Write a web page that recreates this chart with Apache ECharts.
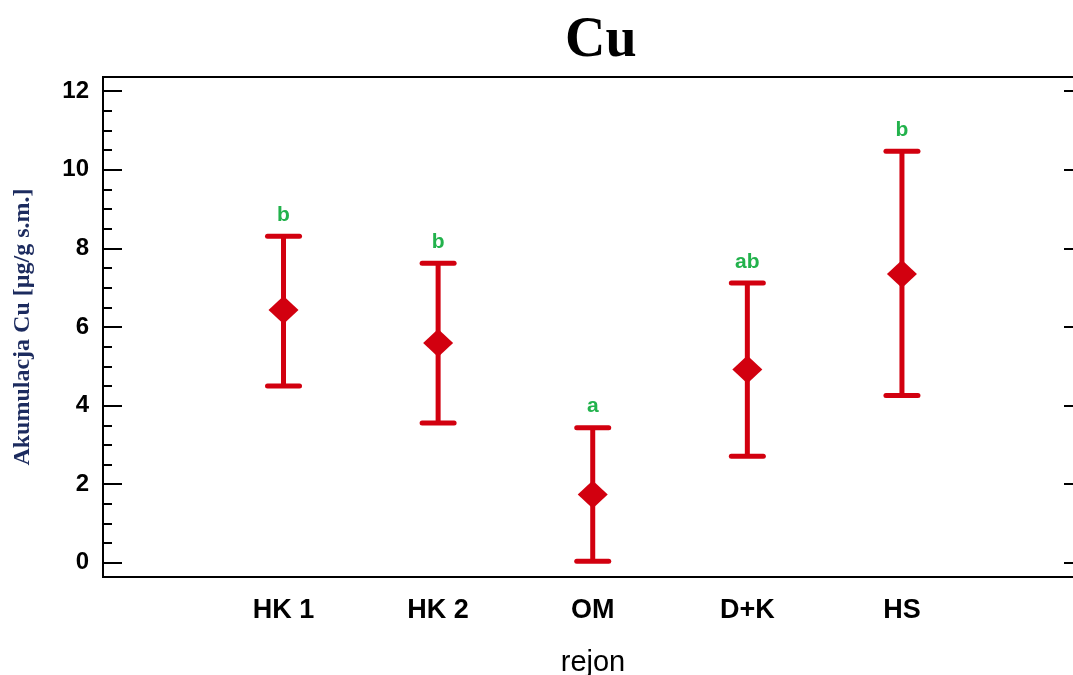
<!DOCTYPE html>
<html>
<head>
    <meta charset="utf-8">
    <script src="https://cdn.jsdelivr.net/npm/echarts@6/dist/echarts.min.js"></script>
    <style>
        html, body { margin: 0; padding: 0; background: #fff; }
    </style>
</head>
<body>
    <div id="main" style="width: 1073px;height:675px;"></div>
    <script type="text/javascript">
        // dane
        var categories = ['HK 1', 'HK 2', 'OM', 'D+K', 'HS'];
        var positions = [1, 2, 3, 4, 5];
        var means = [6.43, 5.59, 1.74, 4.92, 7.35];
        var lower = [4.50, 3.56, 0.04, 2.71, 4.26];
        var upper = [8.31, 7.62, 3.44, 7.12, 10.47];
        var letters = ['b', 'b', 'a', 'ab', 'b'];
        var yMajorTicks = [0, 2, 4, 6, 8, 10, 12];
        var yMinorTicks = [0, 0.5, 1, 1.5, 2, 2.5, 3, 3.5, 4, 4.5, 5, 5.5, 6, 6.5,
                           7, 7.5, 8, 8.5, 9, 9.5, 10, 10.5, 11, 11.5, 12];

        var red = '#d2000f';
        var green = '#22b24c';
        var sans = 'Liberation Sans, Arial, sans-serif';
        var serif = 'Liberation Serif, Times New Roman, serif';

        var barData = positions.map(function (p, i) {
            return [p, lower[i], upper[i], i];
        });
        var meanData = positions.map(function (p, i) {
            return [p, means[i]];
        });

        function renderBar(params, api) {
            var x = api.value(0);
            var lo = api.coord([x, api.value(1)]);
            var hi = api.coord([x, api.value(2)]);
            var half = 16;
            var st = { stroke: red, lineWidth: 5, lineCap: 'round' };
            return {
                type: 'group',
                children: [
                    { type: 'line', shape: { x1: lo[0], y1: lo[1], x2: hi[0], y2: hi[1] },
                      style: { stroke: red, lineWidth: 5 } },
                    { type: 'line', shape: { x1: hi[0] - half, y1: hi[1], x2: hi[0] + half, y2: hi[1] }, style: st },
                    { type: 'line', shape: { x1: lo[0] - half, y1: lo[1], x2: lo[0] + half, y2: lo[1] }, style: st },
                    { type: 'text', x: hi[0], y: hi[1] - 21,
                      style: { text: letters[api.value(3)], fill: green, align: 'center', verticalAlign: 'middle',
                               font: 'bold 21px ' + sans } }
                ]
            };
        }

        // wspólne ustawienia osi Y bez etykiet (tylko kreski)
        function tickAxis(pos, ticks, len) {
            return {
                type: 'value',
                position: pos,
                offset: 0,
                min: -0.36,
                max: 12.36,
                axisLine: { show: false },
                splitLine: { show: false },
                axisLabel: { show: false },
                axisTick: {
                    show: true, inside: true, length: len,
                    customValues: ticks,
                    lineStyle: { color: '#000', width: 2 }
                }
            };
        }

        var option = {
            backgroundColor: '#fff',
            animation: false,
            title: {
                text: 'Cu',
                left: 560,
                top: 9,
                textStyle: { fontFamily: serif, fontWeight: 'bold', fontSize: 56, color: '#000' }
            },
            grid: {
                left: 103,
                right: -10,
                top: 77,
                bottom: 98,
                outerBoundsMode: 'none',
                containLabel: false,
                show: true,
                borderColor: '#000',
                borderWidth: 2
            },
            xAxis: {
                type: 'value',
                min: -0.1675,
                max: 6.171,
                axisLine: { show: false },
                axisTick: { show: false },
                splitLine: { show: false },
                axisLabel: {
                    customValues: positions,
                    formatter: function (v) { return categories[positions.indexOf(v)]; },
                    fontFamily: sans,
                    fontWeight: 'bold',
                    fontSize: 27,
                    color: '#000',
                    margin: 20
                },
                name: 'rejon',
                nameLocation: 'middle',
                nameGap: 71,
                nameTextStyle: { fontFamily: sans, fontSize: 29, color: '#000' }
            },
            yAxis: [
                {
                    type: 'value',
                    position: 'left',
                    offset: 0,
                    min: -0.36,
                    max: 12.36,
                    axisLine: { show: false },
                    splitLine: { show: false },
                    axisTick: { show: false },
                    axisLabel: {
                        customValues: yMajorTicks,
                        fontFamily: sans, fontWeight: 'bold', fontSize: 24, color: '#000', margin: 14
                    },
                    name: 'Akumulacja Cu [µg/g s.m.]',
                    nameLocation: 'middle',
                    nameGap: 68,
                    nameRotate: 90,
                    nameTextStyle: { fontFamily: serif, fontWeight: 'bold', fontSize: 24, color: '#1c2b5e' }
                },
                tickAxis('left', yMinorTicks, 9),
                tickAxis('left', yMajorTicks, 19),
                tickAxis('right', yMajorTicks, 19)
            ],
            series: [
                {
                    name: 'zakres',
                    type: 'custom',
                    renderItem: renderBar,
                    encode: { x: 0, y: [1, 2] },
                    data: barData,
                    z: 2
                },
                {
                    name: 'srednia',
                    type: 'scatter',
                    symbol: 'diamond',
                    symbolSize: [30, 28],
                    itemStyle: { color: red, opacity: 1 },
                    data: meanData,
                    z: 3
                }
            ]
        };

        var myChart = echarts.init(document.getElementById('main'));
        myChart.setOption(option);
    </script>
</body>
</html>
